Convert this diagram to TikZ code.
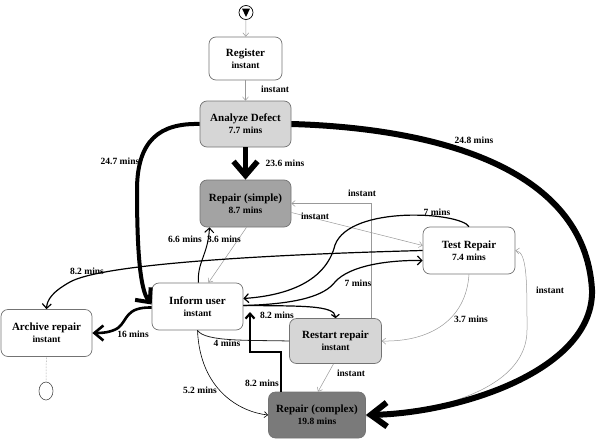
\documentclass[tikz,border=0pt]{standalone}
\usepackage{fontspec}
\setmainfont{Liberation Serif}
\usetikzlibrary{arrows.meta,shapes.geometric}
\newcommand\nodetitle[1]{{\fontsize{11}{12}\selectfont #1}}
\begin{document}
\begin{tikzpicture}[x=1pt,y=-1pt,
  box/.style={draw=black!55, line width=0.7pt, rounded corners=7pt, align=center, inner sep=0pt, font=\fontsize{9.5}{12}\selectfont\bfseries},
  lbl/.style={font=\fontsize{9.5}{11}\selectfont\bfseries, inner sep=0pt},
  thinedge/.style={draw=black!40, line width=0.5pt, -{Straight Barb[length=3.5pt,width=6pt]}},
  med/.style={draw=black, line width=1.2pt, -{Straight Barb[length=4.5pt,width=9pt]}},
]
\useasboundingbox (0,0) rectangle (596,439);

% nodes
\node[draw=black, line width=0.7pt, circle, minimum size=14pt, inner sep=0pt] (start) at (246,12.5) {};
\fill (242,8.5) -- (250,8.5) -- (246,17) -- cycle;
\node[box, minimum width=73pt, minimum height=43pt] (reg) at (245.5,58.5) {\nodetitle{Register}\\instant};
\node[box, fill=black!16, minimum width=91pt, minimum height=46pt] (ana) at (245.5,124) {\nodetitle{Analyze Defect}\\7.7 mins};
\node[box, fill=black!36, minimum width=91pt, minimum height=47pt] (rs) at (245.5,203.5) {\nodetitle{Repair (simple)}\\8.7 mins};
\node[box, minimum width=92pt, minimum height=47pt] (test) at (469,250.5) {\nodetitle{Test Repair}\\7.4 mins};
\node[box, minimum width=91pt, minimum height=47pt] (inf) at (197.5,306.5) {\nodetitle{Inform user}\\instant};
\node[box, minimum width=91pt, minimum height=47pt] (arch) at (46.5,333) {\nodetitle{Archive repair}\\instant};
\node[box, fill=black!16, minimum width=92pt, minimum height=45pt] (rr) at (335.5,341) {\nodetitle{Restart repair}\\instant};
\node[box, fill=black!52, minimum width=97pt, minimum height=46pt] (rc) at (317,415) {\nodetitle{Repair (complex)}\\19.8 mins};
\node[draw=black!70, line width=0.6pt, ellipse, minimum width=14pt, minimum height=18pt, inner sep=0pt] (end) at (46,391) {};
\coordinate (infin) at (250,312);

% thin gray edges
\draw[thinedge] (start) -- (reg);
\draw[thinedge] (reg) -- (ana);
\draw[thinedge] ([yshift=-9pt]rs.east) -- ([yshift=5pt]test.west);
\draw[thinedge] ([xshift=36pt]rr.north) |- (rs.east);
\draw[thinedge] ([xshift=1pt]rs.south) -- ([xshift=11pt]inf.north);
\draw[thinedge] ([xshift=-2pt]rr.south) -- ([xshift=1pt]rc.north);
\draw[thinedge] (test.south) .. controls (466,320) and (430,342) .. (rr.east);
\draw[thinedge] ([yshift=-2pt]rc.east) .. controls (450,410) and (527,385) .. (527,330) .. controls (527,280) and (527,252) .. (test.east);
\draw[black!50, line width=0.5pt, densely dotted] (arch) -- (end);

% black edges
\draw[med] (test.north) .. controls (460,212) and (350,205) .. (335,245) .. controls (325,285) and (280,296) .. ([yshift=8pt]inf.east);
\draw[med] ([yshift=1pt]inf.east) .. controls (300,304) and (325,295) .. (335,282) .. controls (350,265) and (390,260) .. ([yshift=-10pt]test.west);
\draw[line width=1.2pt, -{Straight Barb[length=3pt,width=8pt]}] ([yshift=1pt]inf.east) .. controls (300,306) and (335,305) .. (rr.north);
\draw[med, line width=1pt] ([xshift=1pt]inf.north) .. controls (197,262) and (208,255) .. ([xshift=-36pt]rs.south);
\draw[med] (test.west) .. controls (250,255) and (100,265) .. (70,282) .. controls (52,292) and (47,300) .. (arch.north);
\draw[black!85, line width=0.8pt] (rr.west) .. controls (250,340) and (205,342) .. (inf.south);
\draw[black, line width=0.6pt, -{Straight Barb[length=3.5pt,width=6pt]}] (inf.south) .. controls (200,390) and (240,412) .. (rc.west);
\draw[line width=2.2pt, -{Straight Barb[length=5pt,width=9pt]}] ([xshift=-36pt]rc.north) -- ++(0,-40) -| (infin);
\draw[line width=2.6pt, -{Straight Barb[length=9pt,width=15pt]}] ([yshift=-1pt]inf.west) .. controls (125,307) and (128,320) .. (118,328) .. controls (110,333) and (100,333) .. (arch.east);
\draw[line width=4pt, -{Straight Barb[length=11pt,width=20pt]}] (ana.west) .. controls (160,123) and (137,140) .. (137,190) .. controls (137,250) and (140,290) .. ([yshift=2pt]inf.west);
\draw[line width=5.5pt, -{Straight Barb[length=14pt,width=24pt]}] (ana) -- (rs);
\draw[line width=6pt, -{Straight Barb[length=16pt,width=24pt]}] (ana.east) .. controls (430,128) and (585,165) .. (592,290) .. controls (594,370) and (460,413) .. (rc.east);

% labels
\node[lbl] at (275,89) {instant};
\node[lbl] at (285,163) {23.6 mins};
\node[lbl] at (120,161) {24.7 mins};
\node[lbl] at (474,140) {24.8 mins};
\node[lbl] at (315,216) {instant};
\node[lbl] at (362,193) {instant};
\node[lbl] at (437,212) {7 mins};
\node[lbl] at (358,283) {7 mins};
\node[lbl] at (277,315) {8.2 mins};
\node[lbl] at (185,239) {6.6 mins};
\node[lbl] at (224,239) {3.6 mins};
\node[lbl] at (87,271) {8.2 mins};
\node[lbl] at (133,334) {16 mins};
\node[lbl] at (227,343) {4 mins};
\node[lbl] at (200,390) {5.2 mins};
\node[lbl] at (262,383) {8.2 mins};
\node[lbl] at (351,373) {instant};
\node[lbl] at (471,319) {3.7 mins};
\node[lbl] at (550,290) {instant};
\end{tikzpicture}
\end{document}
